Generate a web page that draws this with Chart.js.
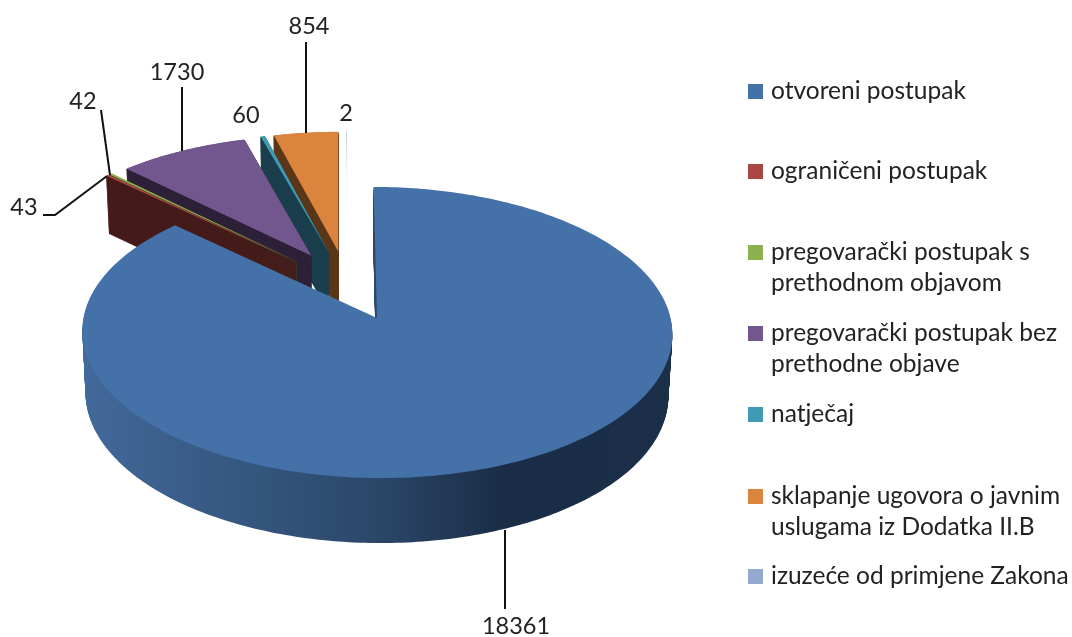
<!DOCTYPE html>
<html>
<head>
<meta charset="utf-8">
<style>
  html, body { margin: 0; background: #fff; }
  /* the reference is a slightly soft, upscaled screenshot */
  canvas { display: block; filter: blur(0.4px); }
</style>
<script src="https://cdn.jsdelivr.net/npm/chart.js@4"></script>
</head>
<body>
<canvas id="pie" width="1072" height="637"></canvas>
<script>
// Data
const categories = [
  'otvoreni postupak',
  'ograničeni postupak',
  'pregovarački postupak s prethodnom objavom',
  'pregovarački postupak bez prethodne objave',
  'natječaj',
  'sklapanje ugovora o javnim uslugama iz Dodatka II.B',
  'izuzeće od primjene Zakona'
];
const values = [18361, 43, 42, 1730, 60, 854, 2];

// Colours
const topColors = ['#4471a8', '#aa4644', '#8fb04f', '#72578f', '#3f9ab4', '#db843d', '#93a9cf'];
const wallColors = [null, '#451c1a', '#3a4820', '#2d2138', '#1b3f4b', '#5b3718', null];

// Legend rows, wrapped the way the picture wraps them
const legendLines = [
  ['otvoreni postupak'],
  ['ograničeni postupak'],
  ['pregovarački postupak s', 'prethodnom objavom'],
  ['pregovarački postupak bez', 'prethodne objave'],
  ['natječaj'],
  ['sklapanje ugovora o javnim', 'uslugama iz Dodatka II.B'],
  ['izuzeće od primjene Zakona']
];
const legendY = [91, 171, 252, 333, 414, 496, 576];

// Value labels and their leader lines
const labelPos = [[516, 626], [24, 207], [83, 101], [177, 72], [246, 115], [309, 26], [346, 113]];
const leaders = [
  [[505, 530], [505, 609]],
  [[43, 215], [55, 215], [107, 176]],
  [[101, 110], [110, 175]],
  [[182, 87], [182, 151]],
  [],
  [[306, 42], [306, 133]],
  []
];

// Perspective of the pie plane. t is depth in radii, negative towards the back.
// xv is the column that stays vertical, x0 the big slice's tip
const view = { xv: 340, x0: 377, y0: 318, rx: 293.5, a: 112.4, c: -0.0997, explode: 0.253 };

function project(px, t, h) {
  const w = 1 + view.c * t;
  const depth = h * (61.5 + 3.5 * t);
  const p = px + (view.x0 - view.xv) / view.rx;
  return {
    x: view.xv + (view.rx * p / w) * (1 - 0.012 * h),
    y: (view.a * t + view.y0) / w + depth
  };
}

function slicePath(ctx, start, end, origin, h) {
  const mid = (start + end) / 2;
  const ax = Math.cos(mid) * view.explode - origin.x;
  const at = Math.sin(mid) * view.explode - origin.t;
  ctx.beginPath();
  const apex = project(ax, at, h);
  ctx.moveTo(apex.x, apex.y);
  const steps = Math.max(2, Math.ceil((end - start) * 60));
  for (let i = 0; i <= steps; i++) {
    const ang = start + (end - start) * i / steps;
    const p = project(ax + Math.cos(ang), at + Math.sin(ang), h);
    ctx.lineTo(p.x, p.y);
  }
  ctx.closePath();
}

const pie3d = {
  id: 'pie3d',
  beforeDatasetsDraw(chart) {
    const ctx = chart.ctx;
    const arcs = chart.getDatasetMeta(0).data;
    // everything is placed relative to the big slice's tip
    const bigMid = (arcs[0].startAngle + arcs[0].endAngle) / 2;
    const origin = { x: Math.cos(bigMid) * view.explode, t: Math.sin(bigMid) * view.explode };

    const blueWall = ctx.createLinearGradient(85, 0, 670, 0);
    blueWall.addColorStop(0, '#41699a');
    blueWall.addColorStop(0.5, '#2b4768');
    blueWall.addColorStop(0.72, '#1a2d46');
    blueWall.addColorStop(1, '#1b2f49');

    // the 2 slice is thinner than a pixel, it only shows as a pale fading line
    const paleLine = ctx.createLinearGradient(0, 132, 0, 198);
    paleLine.addColorStop(0, '#c9d2e4');
    paleLine.addColorStop(1, 'rgba(255,255,255,0)');

    // painter's order: last slice at the back, the big one in front
    const order = [6, 5, 4, 3, 2, 1, 0];
    order.forEach(i => {
      const el = arcs[i];
      const wall = i === 0 ? blueWall : wallColors[i];
      if (wall) {
        ctx.fillStyle = wall;
        ctx.strokeStyle = wall;
        ctx.lineWidth = 0.8;
        for (let d = 64; d > 0; d--) {
          slicePath(ctx, el.startAngle, el.endAngle, origin, d / 64);
          ctx.fill();
          // thin wedges would stay see-through without the stroke
          if (i !== 0) ctx.stroke();
        }
      }
      ctx.fillStyle = topColors[i];
      slicePath(ctx, el.startAngle, el.endAngle, origin, 0);
      ctx.fill();
      if (i === 6) {
        ctx.strokeStyle = paleLine;
        ctx.lineWidth = 1;
        ctx.stroke();
      }
    });
    return false;
  },
  afterDraw(chart) {
    const ctx = chart.ctx;
    ctx.save();
    ctx.fillStyle = '#222';

    // leader lines
    ctx.strokeStyle = '#111';
    ctx.lineWidth = 2;
    leaders.forEach(line => {
      if (!line.length) return;
      ctx.beginPath();
      line.forEach((p, i) => i ? ctx.lineTo(p[0], p[1]) : ctx.moveTo(p[0], p[1]));
      ctx.stroke();
    });

    // value labels
    ctx.font = '23.5px Lato';
    ctx.textAlign = 'center';
    ctx.textBaseline = 'middle';
    values.forEach((v, i) => ctx.fillText(String(v), labelPos[i][0], labelPos[i][1]));

    // legend
    ctx.font = '24.5px Lato';
    ctx.textAlign = 'left';
    categories.forEach((name, i) => {
      ctx.fillStyle = topColors[i];
      ctx.fillRect(748, legendY[i] - 7, 15, 15);
      ctx.fillStyle = '#222';
      legendLines[i].forEach((line, n) => ctx.fillText(line, 771, legendY[i] + n * 31.5));
    });
    ctx.restore();
  }
};

new Chart(document.getElementById('pie'), {
  type: 'pie',
  data: {
    labels: categories,
    datasets: [{ data: values, backgroundColor: topColors, borderWidth: 0 }]
  },
  options: {
    responsive: false,
    animation: false,
    plugins: { legend: { display: false }, tooltip: { enabled: false } }
  },
  plugins: [pie3d]
});
</script>
</body>
</html>
